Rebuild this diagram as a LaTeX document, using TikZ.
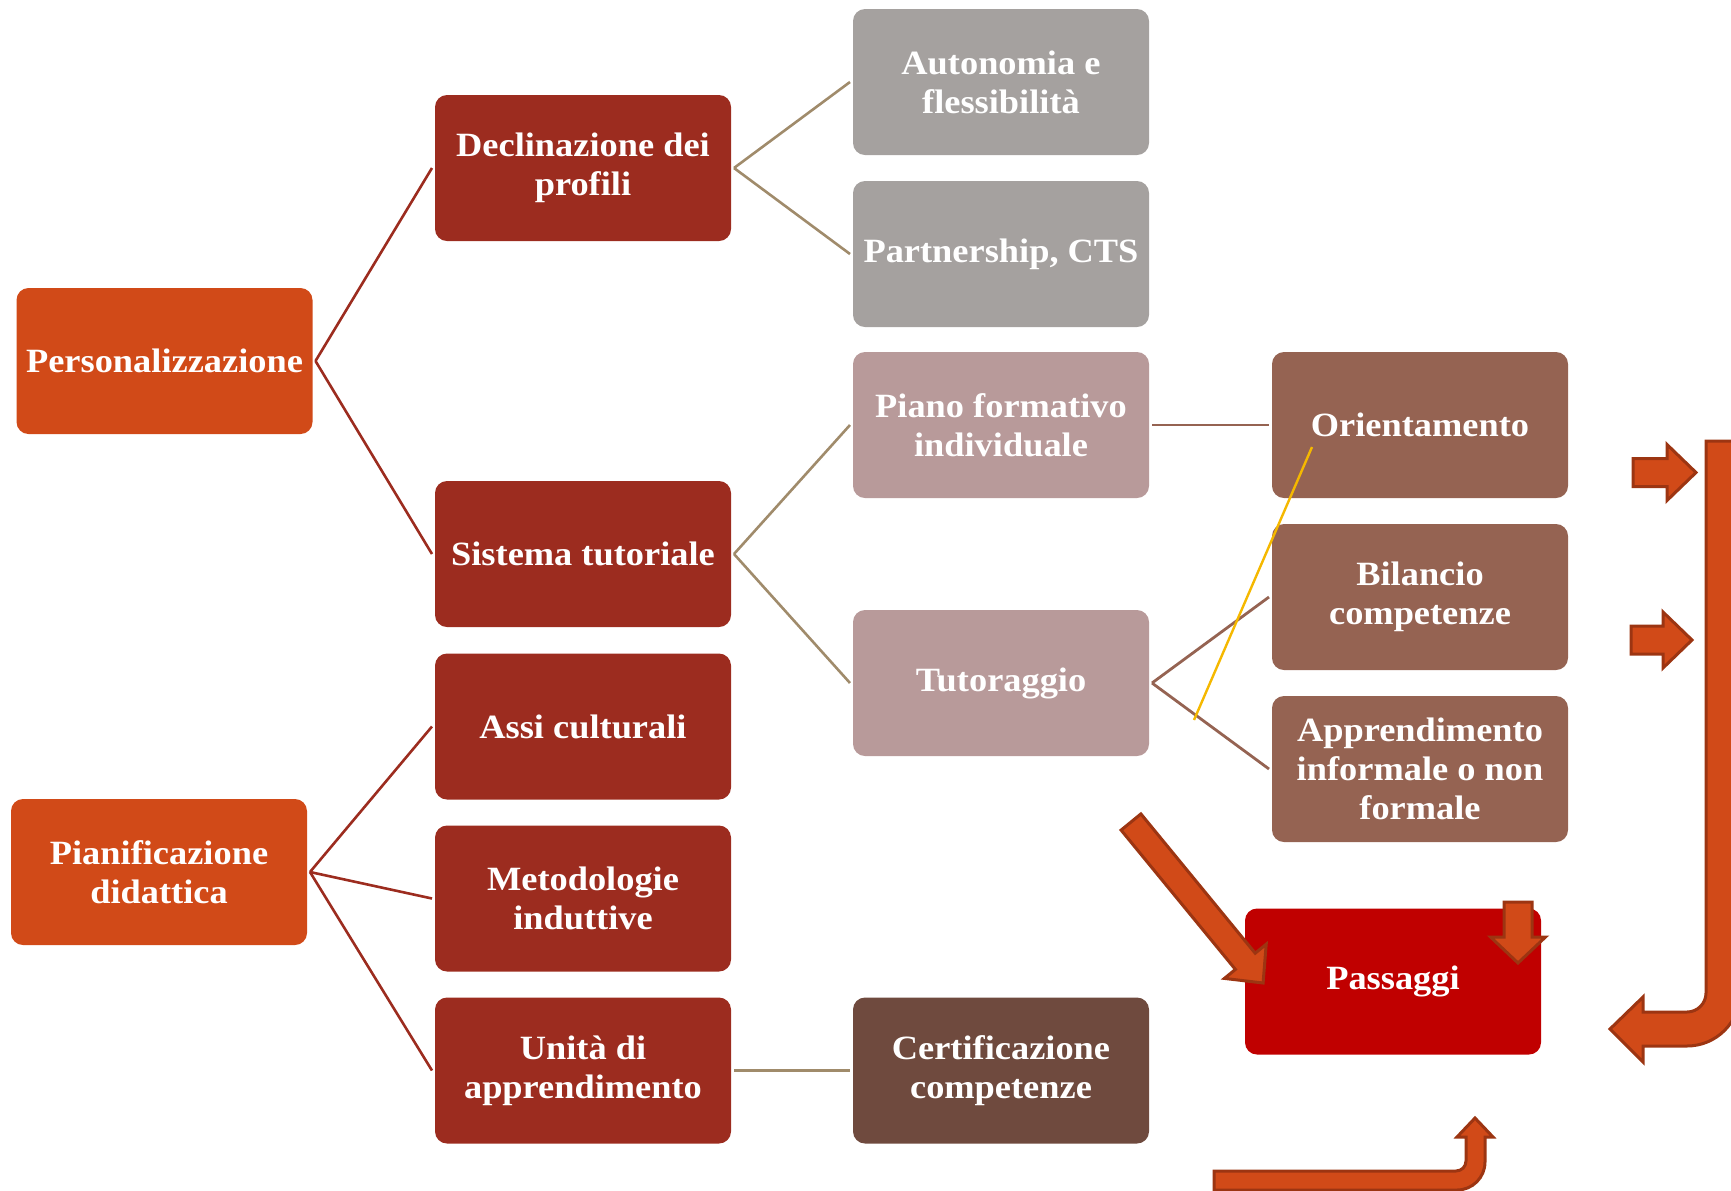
\documentclass[tikz,border=0pt]{standalone}
\usepackage{fontspec}
\setmainfont{Liberation Serif}[FakeStretch=1.07]
\usepackage{xcolor}
\definecolor{arancio}{HTML}{D14A18}
\definecolor{rossoscuro}{HTML}{9C2C1F}
\definecolor{grigio}{HTML}{A5A19F}
\definecolor{rosa}{HTML}{B89A9A}
\definecolor{marrone}{HTML}{956352}
\definecolor{marronescuro}{HTML}{6F4A3E}
\definecolor{rossovivo}{HTML}{C00000}
\definecolor{bordo}{HTML}{9C3512}
\definecolor{sabbia}{HTML}{A08B6B}
\definecolor{giallo}{HTML}{F5B800}

\begin{document}
\begin{tikzpicture}[x=0.5pt,y=-0.5pt]
        \tikzstyle{scatola}=[rounded corners=6pt, minimum width=148pt, minimum height=73pt, inner sep=0pt, outer sep=1.5pt, align=center, text=white, font=\fontsize{17}{19.5}\selectfont\bfseries]
        \tikzstyle{radice}=[scatola, fill=arancio]
        \tikzstyle{ramo}=[scatola, fill=rossoscuro]
        \tikzstyle{foglia}=[scatola, fill=grigio]
        \tikzstyle{piano}=[scatola, fill=rosa]
        \tikzstyle{esito}=[scatola, fill=marrone]
        \tikzstyle{freccia}=[fill=arancio, draw=bordo, line width=1.5pt]
        \tikzstyle{linearossa}=[rossoscuro, line width=1.3pt]
        \tikzstyle{lineasabbia}=[sabbia, line width=1.3pt]
        \tikzstyle{lineamarrone}=[marrone, line width=1.4pt]

        \useasboundingbox (0,0) rectangle (1731,1190);

        \node (pers) at (164.5,361)[radice]{Personalizzazione};
        \node (pian) at (159,872)[radice]{Pianificazione\\didattica};

        \node (decl) at (583,168)[ramo]{Declinazione dei\\profili};
        \node (sist) at (583,554)[ramo]{Sistema tutoriale};
        \node (assi) at (583,726.5)[ramo]{Assi culturali};
        \node (meto) at (583,898.5)[ramo]{Metodologie\\induttive};
        \node (unit) at (583,1070.5)[ramo]{Unità di\\apprendimento};

        \node (auto) at (1001,82)[foglia]{Autonomia e\\flessibilità};
        \node (part) at (1001,254)[foglia]{Partnership, CTS};
        \node (pfi) at (1001,425)[piano]{Piano formativo\\individuale};
        \node (tuto) at (1001,683)[piano]{Tutoraggio};
        \node (cert) at (1001,1070.5)[scatola, fill=marronescuro]{Certificazione\\competenze};

        \node (orie) at (1420,425)[esito]{Orientamento};
        \node (bila) at (1420,597)[esito]{Bilancio\\competenze};
        \node (appr) at (1420,769)[esito]{Apprendimento\\informale o non\\formale};

        \node (pass) at (1393,981.5)[scatola, fill=rossovivo]{Passaggi};

        \draw[linearossa] (pers.east) -- (decl.west);
        \draw[linearossa] (pers.east) -- (sist.west);
        \draw[linearossa] (pian.east) -- (assi.west);
        \draw[linearossa] (pian.east) -- (meto.west);
        \draw[linearossa] (pian.east) -- (unit.west);

        \draw[lineasabbia] (decl.east) -- (auto.west);
        \draw[lineasabbia] (decl.east) -- (part.west);
        \draw[lineasabbia] (sist.east) -- (pfi.west);
        \draw[lineasabbia] (sist.east) -- (tuto.west);
        \draw[lineasabbia] (unit.east) -- (cert.west);

        \draw[lineamarrone] (pfi.east) -- (orie.west);
        \draw[lineamarrone] (tuto.east) -- (bila.west);
        \draw[lineamarrone] (tuto.east) -- (appr.west);

        \draw[freccia] (1140.9,813.9) -- (1255.2,953.2) -- (1266.2,944.2) -- (1263.1,983) -- (1224.4,978.4) -- (1235.4,969.4) -- (1121.1,830.1) -- cycle;
        \draw[freccia] (1504,902) -- (1532,902) -- (1532,937) -- (1545.5,937) -- (1518,963) -- (1490.5,937) -- (1504,937) -- cycle;

        \draw[freccia] (1633,458.5) -- (1667,458.5) -- (1667,444.5) -- (1696,472.5) -- (1667,500.5) -- (1667,486.5) -- (1633,486.5) -- cycle;
        \draw[freccia] (1631,626) -- (1663,626) -- (1663,612) -- (1692,640) -- (1663,668) -- (1663,654) -- (1631,654) -- cycle;

        \draw[freccia] (1706,441) -- (1706,993) .. controls (1706,1003.5) and (1697.5,1012) .. (1687,1012) -- (1643,1012) -- (1643,997) -- (1610,1029) -- (1643,1062) -- (1643,1046) -- (1687,1046) .. controls (1716.3,1046) and (1740,1022.3) .. (1740,993) -- (1740,441) -- cycle;

        \draw[freccia] (1214,1171) -- (1456,1171) .. controls (1461.5,1171) and (1466,1166.5) .. (1466,1161) -- (1466,1137) -- (1457,1137) -- (1475,1118) -- (1493,1137) -- (1485,1137) -- (1485,1162) .. controls (1485,1177.5) and (1472.5,1190) .. (1457,1190) -- (1214,1190) -- cycle;

        \coordinate (g1) at (1312,447);
        \coordinate (g2) at (1194,720);
        \draw[giallo, line width=1.2pt] (g1) -- (g2);
      \end{tikzpicture}
\end{document}
